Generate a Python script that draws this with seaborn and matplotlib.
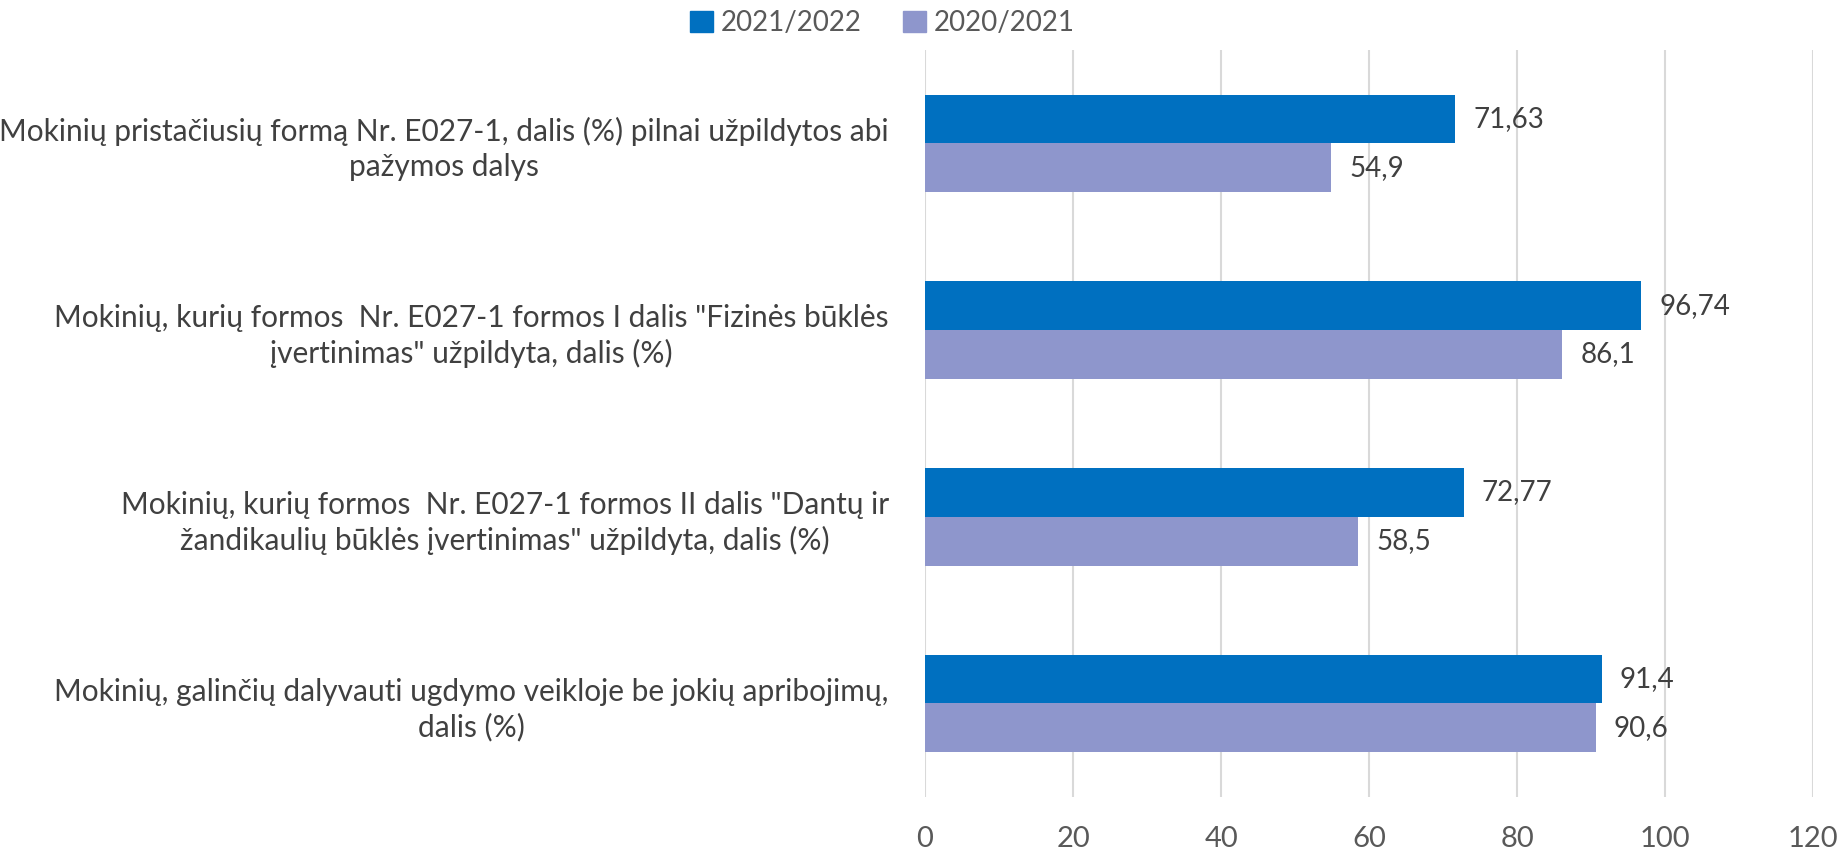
import pandas as pd
import numpy as np
import matplotlib.pyplot as plt
import seaborn as sns
from matplotlib.patches import Patch

# Data
categories = [
    "Mokinių pristačiusių formą Nr. E027-1, dalis (%) pilnai užpildytos abi\npažymos dalys",
    "Mokinių, kurių formos  Nr. E027-1 formos I dalis \"Fizinės būklės\nįvertinimas\" užpildyta, dalis (%)",
    "Mokinių, kurių formos  Nr. E027-1 formos II dalis \"Dantų ir\nžandikaulių būklės įvertinimas\" užpildyta, dalis (%)",
    "Mokinių, galinčių dalyvauti ugdymo veikloje be jokių apribojimų,\ndalis (%)",
]
series_names = ["2021/2022", "2020/2021"]
values_2122 = [71.63, 96.74, 72.77, 91.4]
values_2021 = [54.9, 86.1, 58.5, 90.6]
x_ticks = [0, 20, 40, 60, 80, 100, 120]

df = pd.DataFrame({
    "Kategorija": categories * 2,
    "Metai": [series_names[0]] * 4 + [series_names[1]] * 4,
    "Reikšmė": values_2122 + values_2021,
})

sns.set_style("white")
plt.rcParams["font.family"] = ["Lato", "DejaVu Sans"]

fig = plt.figure(figsize=(18.39, 8.52), dpi=100)
ax = fig.add_axes([0.503, 0.0649, 0.483, 0.8764])

palette = {"2021/2022": "#0070C0", "2020/2021": "#8E96CC"}
sns.barplot(data=df, x="Reikšmė", y="Kategorija", hue="Metai",
            hue_order=series_names, order=categories, palette=palette,
            orient="h", width=0.523, linewidth=0, saturation=1, ax=ax,
            legend=False)

# data labels with decimal comma
for cont in ax.containers:
    labels = [f"{v:g}".replace(".", ",") for v in cont.datavalues]
    ax.bar_label(cont, labels=labels, padding=13, fontsize=20, color="#404040")

ax.set_xlim(0, 120)
ax.set_ylim(3.5, -0.5)
ax.set_xticks(x_ticks)
ax.set_xticklabels([str(t) for t in x_ticks], fontsize=21, color="#595959")
ax.tick_params(axis="x", length=0, pad=21)
ax.tick_params(axis="y", length=0, pad=26)
ax.set_yticks(range(len(categories)))
ax.set_yticklabels(categories, fontsize=21.5, color="#404040",
                   multialignment="center", linespacing=1.3)
ax.set_xlabel("")
ax.set_ylabel("")
ax.xaxis.grid(True, color="#D9D9D9", linewidth=1.5)
ax.set_axisbelow(True)
for s in ax.spines.values():
    s.set_visible(False)

# legend at top
handles = [Patch(color=palette[n]) for n in series_names]
fig.legend(handles, series_names, loc="center", bbox_to_anchor=(0.48, 0.973),
           ncol=2, frameon=False, fontsize=20, labelcolor="#595959",
           handlelength=0.8, handleheight=0.8, handletextpad=0.3,
           columnspacing=1.5)

fig.savefig("out.png", dpi=100)
